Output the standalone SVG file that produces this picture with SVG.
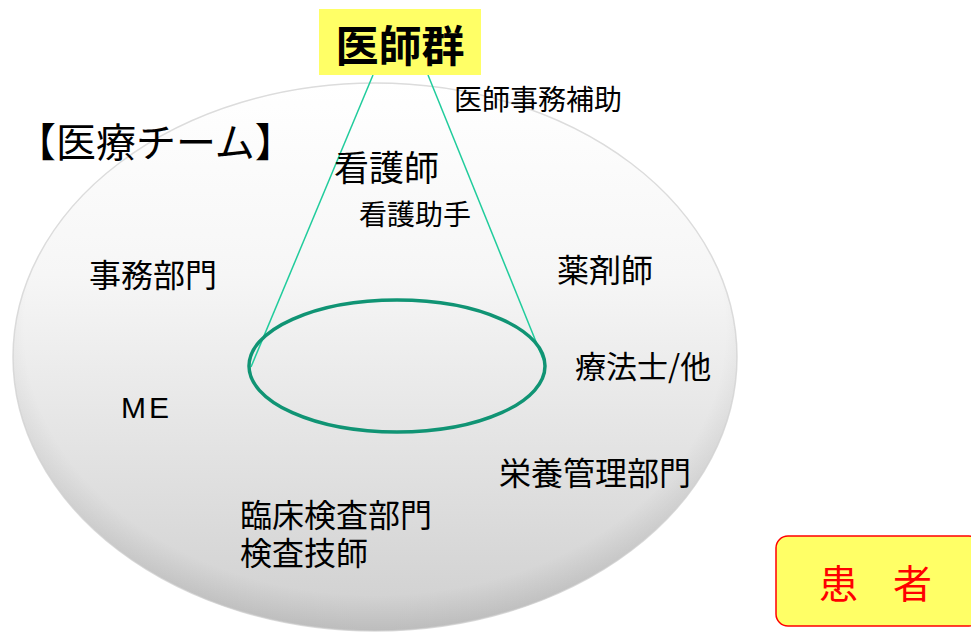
<svg xmlns="http://www.w3.org/2000/svg" width="971" height="632" viewBox="0 0 971 632">
<defs>
<linearGradient id="bg" x1="0" y1="0" x2="0" y2="1">
<stop offset="0" stop-color="#ffffff"/>
<stop offset="0.35" stop-color="#f6f6f6"/>
<stop offset="1" stop-color="#cfcfcf"/>
</linearGradient>
<radialGradient id="edge" cx="0.5" cy="0.45" r="0.55">
<stop offset="0.88" stop-color="#000" stop-opacity="0"/>
<stop offset="1" stop-color="#000" stop-opacity="0.09"/>
</radialGradient>
</defs>
<style>
text{font-family:"Noto Sans CJK JP","Liberation Sans",sans-serif;fill:#000}
.t{font-size:32px}
</style>
<rect width="971" height="632" fill="#fff"/>
<g id="team">
<ellipse cx="375" cy="357" rx="362" ry="274" fill="url(#bg)" stroke="#dcdcdc" stroke-width="1.5"/>
<ellipse cx="375" cy="357" rx="362" ry="274" fill="url(#edge)"/>
<text x="16" y="157" style="font-size:40px">【医療チーム】</text>
</g>
<g id="connectors" stroke="#20cc9c" stroke-width="1.5" fill="none">
<line x1="373" y1="75" x2="251" y2="367"/>
<line x1="428" y1="75" x2="545" y2="364"/>
</g>
<g id="core">
<ellipse cx="397" cy="366" rx="148" ry="66" fill="none" stroke="#109474" stroke-width="3.5"/>
</g>
<g id="doctors">
<rect x="319" y="9" width="162" height="66" fill="#ffff66"/>
<text x="400" y="62" text-anchor="middle" style="font-size:43px;font-weight:bold">医師群</text>
</g>
<g id="clerk"><text x="454" y="110" style="font-size:28px">医師事務補助</text></g>
<g id="nurse"><text x="334" y="181" style="font-size:35px">看護師</text></g>
<g id="aide"><text x="359" y="225" style="font-size:28px">看護助手</text></g>
<g id="office"><text class="t" x="89" y="287">事務部門</text></g>
<g id="pharm"><text class="t" x="557" y="282">薬剤師</text></g>
<g id="therapy"><text x="575" y="378" style="font-size:31px">療法士/他</text></g>
<g id="me"><text x="121" y="418" style="font-size:30px;letter-spacing:3px;font-family:'Liberation Sans',sans-serif">ME</text></g>
<g id="nutrition"><text class="t" x="499" y="485">栄養管理部門</text></g>
<g id="lab"><text class="t" x="240" y="527">臨床検査部門<tspan x="240" y="565">検査技師</tspan></text></g>
<g id="patient">
<rect x="776" y="536" width="205" height="90" rx="12" fill="#ffff66" stroke="#ff0000" stroke-width="1.5"/>
<text y="598" style="font-size:39px;fill:#ff0000"><tspan x="819">患</tspan><tspan x="893">者</tspan></text>
</g>
</svg>
